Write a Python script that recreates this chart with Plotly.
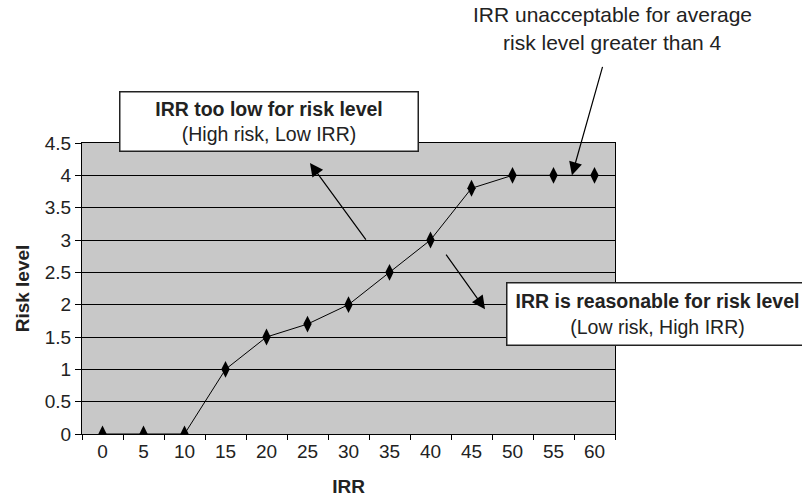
import plotly.graph_objects as go

irr = ["0", "5", "10", "15", "20", "25", "30", "35", "40", "45", "50", "55", "60"]
risk = [0, 0, 0, 1, 1.5, 1.7, 2, 2.5, 3, 3.8, 4, 4, 4]
y_ticks = [0, 0.5, 1, 1.5, 2, 2.5, 3, 3.5, 4, 4.5]
y_labels = ["0", "0.5", "1", "1.5", "2", "2.5", "3", "3.5", "4", "4.5"]

FONT = "Liberation Sans, Arial, sans-serif"

fig = go.Figure()
fig.add_trace(go.Scatter(
    x=irr, y=risk, mode="lines+markers",
    line=dict(color="black", width=1),
    marker=dict(symbol="diamond-tall", size=12, color="black"),
    showlegend=False,
))

# arrows pointing into the plot
arrow = dict(showarrow=True, arrowhead=2, arrowsize=2.2, arrowwidth=1.2,
             arrowcolor="black", text="", xref="x", yref="y")
fig.add_annotation(x=11.45, y=4.0, ax=31, ay=-110, **arrow)
fig.add_annotation(x=5.06, y=4.19, ax=57, ay=78, **arrow)
fig.add_annotation(x=9.33, y=1.93, ax=-40, ay=-56, **arrow)

# text boxes
fig.add_annotation(
    xref="paper", yref="paper", x=0.0694, y=1.1787, xanchor="left", yanchor="top",
    text="<b>IRR too low for risk level</b><br>(High risk, Low IRR)",
    showarrow=False, align="center", width=297, height=58,
    bgcolor="white", bordercolor="#222", borderwidth=1.5, borderpad=0,
    font=dict(family=FONT, size=19.5, color="#222"),
)
fig.add_annotation(
    xref="paper", yref="paper", x=0.7955, y=0.522, xanchor="left", yanchor="top",
    text="<b>IRR is reasonable for risk level</b><br>(Low risk, High IRR)",
    showarrow=False, align="center", width=300, height=61,
    bgcolor="white", bordercolor="#222", borderwidth=1.5, borderpad=0,
    font=dict(family=FONT, size=19.5, color="#222"),
)
fig.add_annotation(
    xref="paper", yref="paper", x=0.996, y=1.44, xanchor="center", yanchor="middle",
    text="IRR unacceptable for average", showarrow=False,
    font=dict(family=FONT, size=21, color="#222"),
)
fig.add_annotation(
    xref="paper", yref="paper", x=0.996, y=1.344, xanchor="center", yanchor="middle",
    text="risk level greater than 4", showarrow=False,
    font=dict(family=FONT, size=21, color="#222"),
)

fig.update_layout(
    width=802, height=501,
    margin=dict(l=82, r=187, t=143, b=67),
    paper_bgcolor="white", plot_bgcolor="#c8c8c8",
    font=dict(family=FONT, size=19, color="#222"),
)
fig.update_xaxes(
    type="category", tickson="boundaries", ticks="outside", ticklen=5,
    tickcolor="black", showgrid=False, showline=True, linecolor="black",
    linewidth=1, mirror=True, range=[-0.5, 12.5], automargin=False,
    title=dict(text="<b>IRR</b>", font=dict(size=19), standoff=18),
)
fig.update_yaxes(
    range=[0, 4.5], tickvals=y_ticks, ticktext=y_labels, ticks="outside",
    ticklen=6, tickcolor="black", showgrid=True, gridcolor="black",
    gridwidth=1, showline=True, linecolor="black", linewidth=1, mirror=True,
    zeroline=False, automargin=False,
    title=dict(text="<b>Risk level</b>", font=dict(size=19), standoff=10),
)

fig.write_html("out.html", config={"displayModeBar": False},
               post_script="document.body.style.margin='0';")
